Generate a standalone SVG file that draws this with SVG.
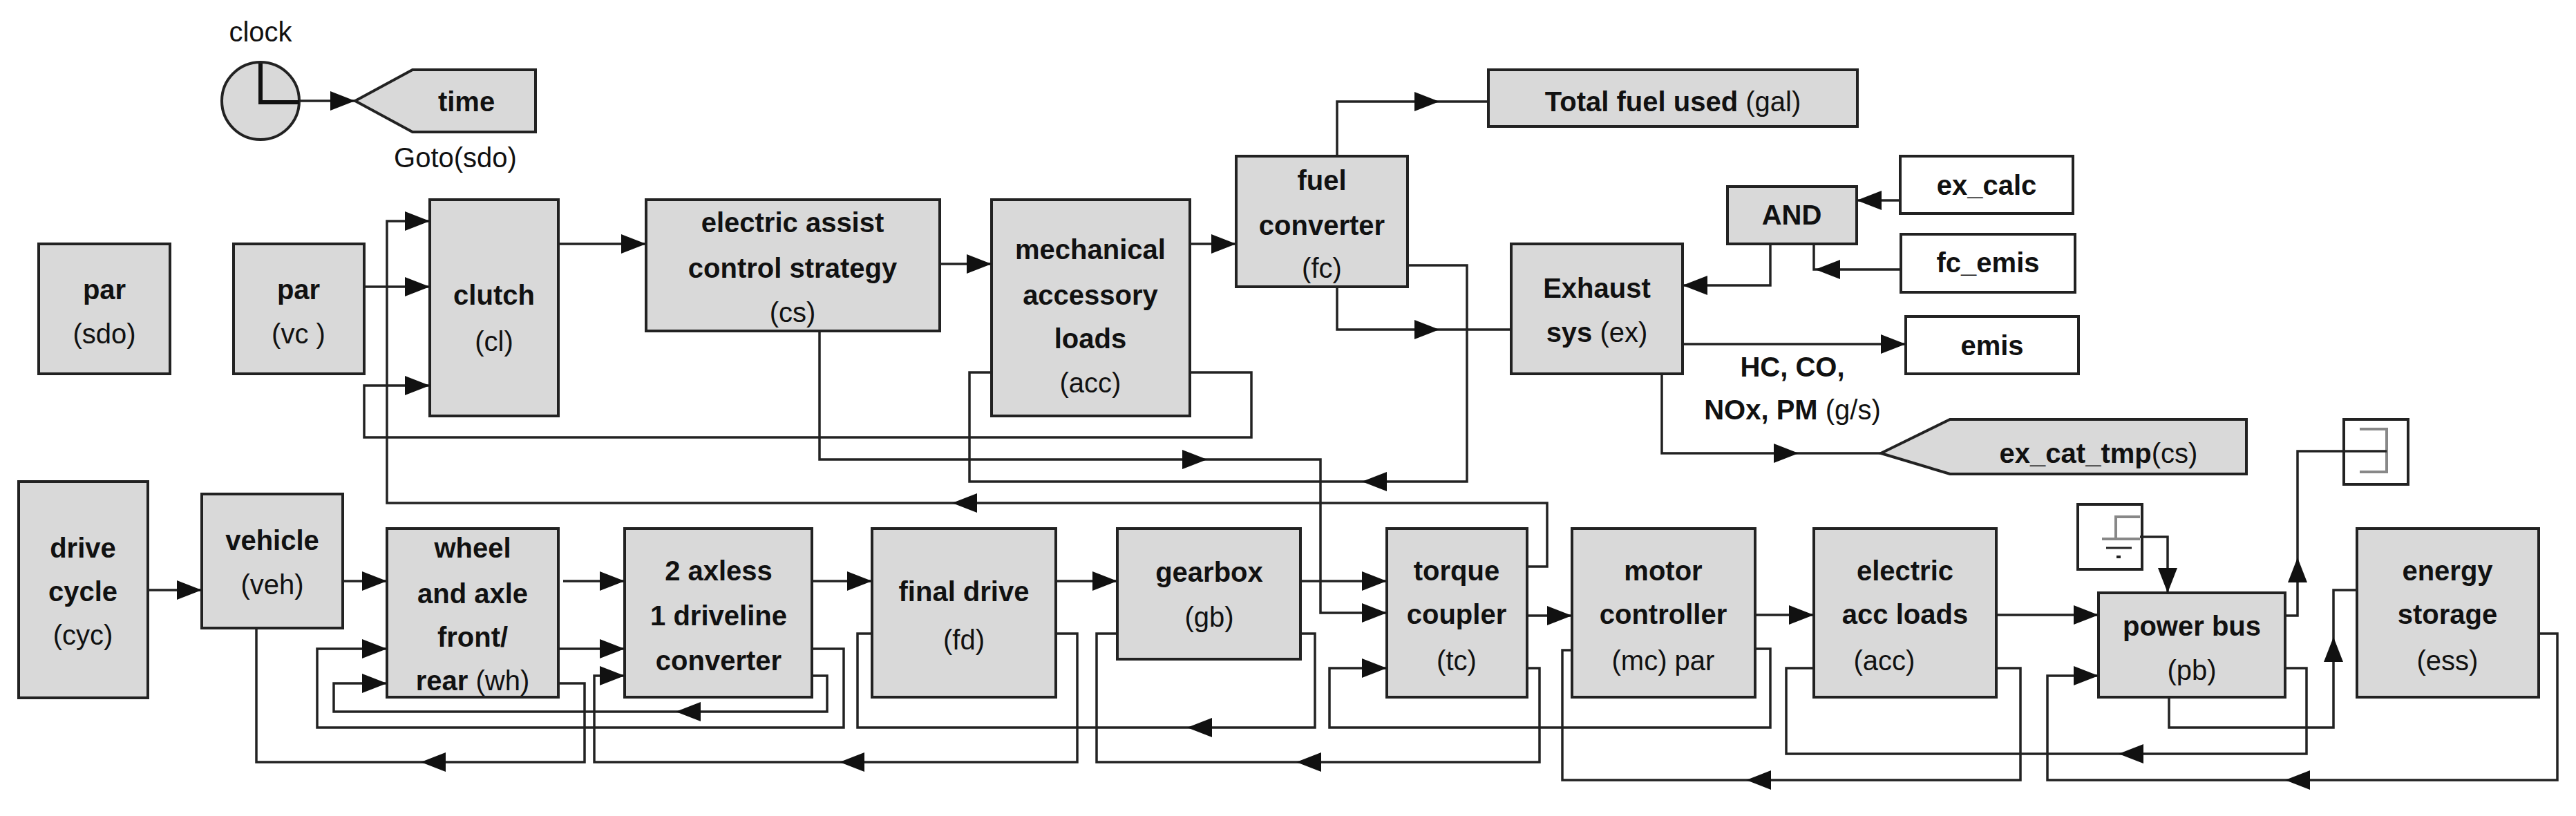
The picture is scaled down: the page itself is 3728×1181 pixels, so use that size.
<svg xmlns="http://www.w3.org/2000/svg" xmlns:xlink="http://www.w3.org/1999/xlink" width="3728" height="1181" viewBox="0 0 3728 1181">
<style>
.b{fill:#d9d9d9;stroke:#222;stroke-width:4}
.w{fill:#fff;stroke:#222;stroke-width:4}
.t{font-family:"Liberation Sans Narrow","Liberation Sans",Arial,sans-serif;font-size:40px;text-anchor:middle;fill:#111}
.t .n{font-weight:normal}
.bd{font-weight:bold}
.c path,.c polyline,.c line{fill:none;stroke:#222;stroke-width:3.5}
.ah{fill:#111;stroke:none}
</style>
<defs>
<path id="ar" class="ah" d="M0,0 L-36,-14 L-36,14 Z"/>
</defs>
<rect width="3728" height="1181" fill="#fff"/>

<g id="clock">
<circle cx="377" cy="146" r="56" class="b" stroke-width="3"/>
<polyline points="377,92 377,148 433,148" fill="none" stroke="#111" stroke-width="6"/>
<text class="t" x="377" y="60">clock</text>
</g>
<g id="time">
<polygon points="514,146 597,101 775,101 775,191 597,191" class="b"/>
<text class="t bd" x="675" y="161">time</text>
<text class="t" x="659" y="242">Goto(sdo)</text>
</g>
<g id="par_sdo"><rect x="56" y="353" width="190" height="188" class="b"/><text class="t" x="151" y="433"><tspan class="bd">par</tspan></text><text class="t" x="151" y="497">(sdo)</text></g>
<g id="par_vc"><rect x="338" y="353" width="189" height="188" class="b"/><text class="t" x="432" y="433"><tspan class="bd">par</tspan></text><text class="t" x="432" y="497">(vc )</text></g>
<g id="clutch"><rect x="622" y="289" width="186" height="313" class="b"/><text class="t bd" x="715" y="441">clutch</text><text class="t" x="715" y="508">(cl)</text></g>
<g id="cs"><rect x="935" y="289" width="425" height="190" class="b"/><text class="t bd" x="1147" y="336">electric assist</text><text class="t bd" x="1147" y="402">control strategy</text><text class="t" x="1147" y="466">(cs)</text></g>
<g id="acc_mech"><rect x="1435" y="289" width="287" height="313" class="b"/><text class="t bd" x="1578" y="375">mechanical</text><text class="t bd" x="1578" y="441">accessory</text><text class="t bd" x="1578" y="504">loads</text><text class="t" x="1578" y="568">(acc)</text></g>
<g id="fc"><rect x="1789" y="226" width="248" height="189" class="b"/><text class="t bd" x="1913" y="275">fuel</text><text class="t bd" x="1913" y="340">converter</text><text class="t" x="1913" y="402">(fc)</text></g>
<g id="fuel_used"><rect x="2154" y="101" width="534" height="82" class="b"/><text class="t" x="2421" y="161"><tspan font-weight="bold">Total fuel used</tspan> (gal)</text></g>
<g id="ex"><rect x="2187" y="353" width="248" height="188" class="b"/><text class="t bd" x="2311" y="431">Exhaust</text><text class="t" x="2311" y="495"><tspan font-weight="bold">sys</tspan> (ex)</text></g>
<g id="and"><rect x="2500" y="270" width="187" height="83" class="b"/><text class="t bd" x="2593" y="325">AND</text></g>
<g id="ex_calc"><rect x="2750" y="226" width="250" height="83" class="w"/><text class="t bd" x="2875" y="282">ex_calc</text></g>
<g id="fc_emis"><rect x="2751" y="339" width="252" height="84" class="w"/><text class="t bd" x="2877" y="394">fc_emis</text></g>
<g id="emis"><rect x="2758" y="458" width="250" height="83" class="w"/><text class="t bd" x="2883" y="514">emis</text></g>
<g id="emis_label"><text class="t bd" x="2594" y="545">HC, CO,</text><text class="t" x="2594" y="607"><tspan font-weight="bold">NOx, PM</tspan> (g/s)</text></g>
<g id="ex_cat_tmp"><polygon points="2722,656 2822,607 3251,607 3251,686 2822,686" class="b"/><text class="t" x="3037" y="670"><tspan font-weight="bold">ex_cat_tmp</tspan>(cs)</text></g>
<g id="terminator"><rect x="3392" y="607" width="93" height="94" class="w" stroke-width="3"/><polyline points="3415,621 3454,621 3454,683 3415,683" fill="none" stroke="#888" stroke-width="4"/></g>
<g id="ground"><rect x="3007" y="730" width="93" height="94" class="w" stroke-width="3"/><polyline points="3097,748 3062,748 3062,780" fill="none" stroke="#888" stroke-width="4"/><line x1="3042" y1="780" x2="3097" y2="780" stroke="#888" stroke-width="4"/><line x1="3048" y1="793" x2="3085" y2="793" stroke="#222" stroke-width="3"/><rect x="3063" y="804" width="6" height="4" fill="#222"/></g>

<g id="cyc"><rect x="27" y="697" width="187" height="313" class="b"/><text class="t bd" x="120" y="807">drive</text><text class="t bd" x="120" y="870">cycle</text><text class="t" x="120" y="933">(cyc)</text></g>
<g id="veh"><rect x="292" y="715" width="204" height="194" class="b"/><text class="t bd" x="394" y="796">vehicle</text><text class="t" x="394" y="860">(veh)</text></g>
<g id="wh"><rect x="560" y="765" width="248" height="244" class="b"/><text class="t bd" x="684" y="807">wheel</text><text class="t bd" x="684" y="873">and axle</text><text class="t bd" x="684" y="936">front/</text><text class="t" x="684" y="999"><tspan font-weight="bold">rear</tspan> (wh)</text></g>
<g id="axle"><rect x="904" y="765" width="271" height="244" class="b"/><text class="t bd" x="1040" y="840">2 axless</text><text class="t bd" x="1040" y="905">1 driveline</text><text class="t bd" x="1040" y="970">converter</text></g>
<g id="fd"><rect x="1262" y="765" width="266" height="244" class="b"/><text class="t bd" x="1395" y="870">final drive</text><text class="t" x="1395" y="940">(fd)</text></g>
<g id="gb"><rect x="1617" y="765" width="265" height="189" class="b"/><text class="t bd" x="1750" y="842">gearbox</text><text class="t" x="1750" y="907">(gb)</text></g>
<g id="tc"><rect x="2007" y="765" width="203" height="244" class="b"/><text class="t bd" x="2108" y="840">torque</text><text class="t bd" x="2108" y="903">coupler</text><text class="t" x="2108" y="970">(tc)</text></g>
<g id="mc"><rect x="2275" y="765" width="265" height="244" class="b"/><text class="t bd" x="2407" y="840">motor</text><text class="t bd" x="2407" y="903">controller</text><text class="t" x="2407" y="970">(mc) par</text></g>
<g id="acc_elec"><rect x="2625" y="765" width="264" height="244" class="b"/><text class="t bd" x="2757" y="840">electric</text><text class="t bd" x="2757" y="903">acc loads</text><text class="t" x="2727" y="970">(acc)</text></g>
<g id="pb"><rect x="3037" y="858" width="270" height="151" class="b"/><text class="t bd" x="3172" y="920">power bus</text><text class="t" x="3172" y="984">(pb)</text></g>
<g id="ess"><rect x="3411" y="765" width="263" height="244" class="b"/><text class="t bd" x="3542" y="840">energy</text><text class="t bd" x="3542" y="903">storage</text><text class="t" x="3542" y="970">(ess)</text></g>

<g id="connectors" class="c">
<polyline points="433,146 514,146"/><use xlink:href="#ar" transform="translate(514,146)"/>
<polyline points="808,353 935,353"/><use xlink:href="#ar" transform="translate(935,353)"/>
<polyline points="1360,382 1435,382"/><use xlink:href="#ar" transform="translate(1435,382)"/>
<polyline points="1722,353 1789,353"/><use xlink:href="#ar" transform="translate(1789,353)"/>
<polyline points="527,415 622,415"/><use xlink:href="#ar" transform="translate(622,415)"/>
<polyline points="1935,226 1935,147 2154,147"/><use xlink:href="#ar" transform="translate(2083,147)"/>
<polyline points="1935,415 1935,477 2187,477"/><use xlink:href="#ar" transform="translate(2083,477)"/>
<polyline points="2037,384 2123,384 2123,697 1403,697 1403,539 1435,539"/><use xlink:href="#ar" transform="translate(1971,697) rotate(180)"/>
<polyline points="1722,539 1811,539 1811,633 527,633 527,558 622,558"/><use xlink:href="#ar" transform="translate(622,558)"/>
<polyline points="1186,479 1186,665 1911,665 1911,887 2007,887"/><use xlink:href="#ar" transform="translate(1747,665)"/><use xlink:href="#ar" transform="translate(2007,887)"/>
<polyline points="2210,820 2239,820 2239,728 560,728 560,320 622,320"/><use xlink:href="#ar" transform="translate(1378,728) rotate(180)"/><use xlink:href="#ar" transform="translate(622,320)"/>
<polyline points="2750,290 2687,290"/><use xlink:href="#ar" transform="translate(2687,290) rotate(180)"/>
<polyline points="2751,390 2625,390 2625,353"/><use xlink:href="#ar" transform="translate(2627,390) rotate(180)"/>
<polyline points="2562,353 2562,413 2435,413"/><use xlink:href="#ar" transform="translate(2435,413) rotate(180)"/>
<polyline points="2435,498 2758,498"/><use xlink:href="#ar" transform="translate(2758,498)"/>
<polyline points="2405,541 2405,656 2722,656"/><use xlink:href="#ar" transform="translate(2603,656)"/>
<polyline points="3307,891 3325,891 3325,653 3454,653"/><use xlink:href="#ar" transform="translate(3325,807) rotate(-90)"/>
<polyline points="3097,777 3137,777 3137,858"/><use xlink:href="#ar" transform="translate(3137,858) rotate(90)"/>
<polyline points="214,854 292,854"/><use xlink:href="#ar" transform="translate(292,854)"/>
<polyline points="496,841 560,841"/><use xlink:href="#ar" transform="translate(560,841)"/>
<polyline points="815,841 904,841"/><use xlink:href="#ar" transform="translate(904,841)"/>
<polyline points="1175,841 1262,841"/><use xlink:href="#ar" transform="translate(1262,841)"/>
<polyline points="1528,841 1617,841"/><use xlink:href="#ar" transform="translate(1617,841)"/>
<polyline points="1882,841 2007,841"/><use xlink:href="#ar" transform="translate(2007,841)"/>
<polyline points="2210,891 2275,891"/><use xlink:href="#ar" transform="translate(2275,891)"/>
<polyline points="2540,890 2625,890"/><use xlink:href="#ar" transform="translate(2625,890)"/>
<polyline points="2889,890 3037,890"/><use xlink:href="#ar" transform="translate(3037,890)"/>
<polyline points="808,939 904,939"/><use xlink:href="#ar" transform="translate(904,939)"/>
<polyline points="1175,939 1221,939 1221,1053 459,1053 459,939 560,939"/><use xlink:href="#ar" transform="translate(560,939)"/>
<polyline points="1175,978 1197,978 1197,1030 483,1030 483,989 560,989"/><use xlink:href="#ar" transform="translate(978,1030) rotate(180)"/><use xlink:href="#ar" transform="translate(560,989)"/>
<polyline points="808,989 846,989 846,1103 371,1103 371,909"/><use xlink:href="#ar" transform="translate(609,1103) rotate(180)"/>
<polyline points="1528,917 1559,917 1559,1103 860,1103 860,978 904,978"/><use xlink:href="#ar" transform="translate(1215,1103) rotate(180)"/><use xlink:href="#ar" transform="translate(904,978)"/>
<polyline points="1882,917 1903,917 1903,1053 1241,1053 1241,917 1262,917"/><use xlink:href="#ar" transform="translate(1718,1053) rotate(180)"/>
<polyline points="2210,967 2228,967 2228,1103 1587,1103 1587,917 1617,917"/><use xlink:href="#ar" transform="translate(1876,1103) rotate(180)"/>
<polyline points="2540,939 2562,939 2562,1053 1924,1053 1924,967 2007,967"/><use xlink:href="#ar" transform="translate(2007,967)"/>
<polyline points="2889,967 2924,967 2924,1129 2261,1129 2261,941 2275,941"/><use xlink:href="#ar" transform="translate(2527,1129) rotate(180)"/>
<polyline points="3307,967 3338,967 3338,1091 2585,1091 2585,967 2625,967"/><use xlink:href="#ar" transform="translate(3066,1091) rotate(180)"/>
<polyline points="3674,917 3701,917 3701,1129 2963,1129 2963,978 3037,978"/><use xlink:href="#ar" transform="translate(3307,1129) rotate(180)"/><use xlink:href="#ar" transform="translate(3037,978)"/>
<polyline points="3139,1009 3139,1053 3377,1053 3377,854 3411,854"/><use xlink:href="#ar" transform="translate(3377,922) rotate(-90)"/>
</g>
</svg>
